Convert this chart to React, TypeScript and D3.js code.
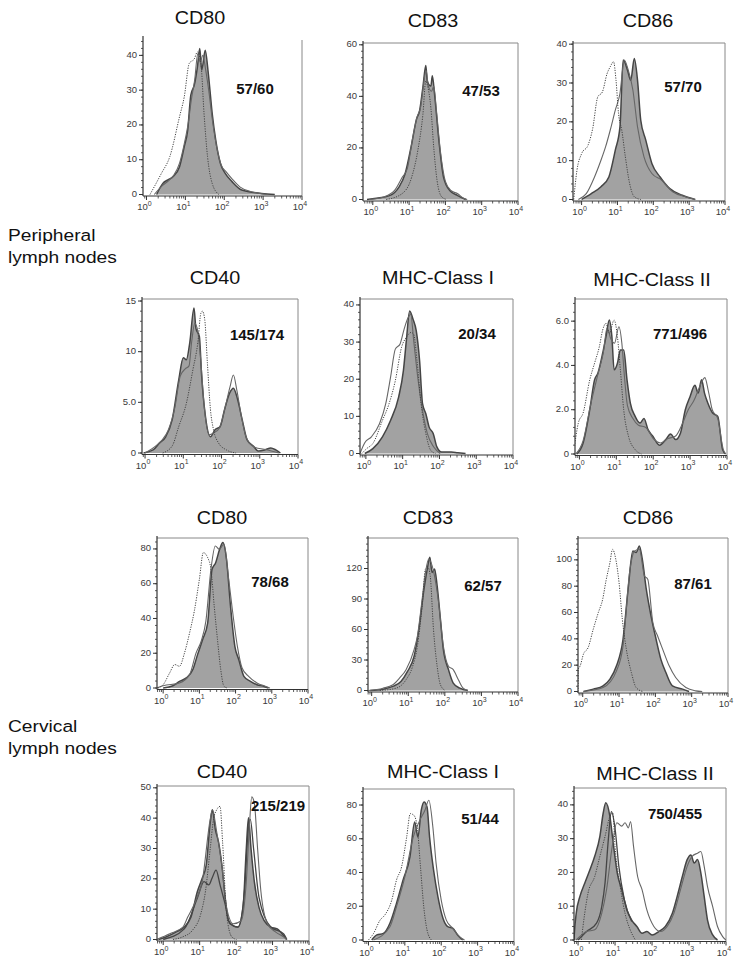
import React from "react";
import * as d3 from "d3";

type Pt = [number, number]; // [log10 fluorescence, cell count]

// ---------- text ----------
const panelTitles = ["CD80", "CD83", "CD86", "CD40", "MHC-Class I", "MHC-Class II", "CD80", "CD83", "CD86", "CD40", "MHC-Class I", "MHC-Class II"];
const mfiLabels = ["57/60", "47/53", "57/70", "145/174", "20/34", "771/496", "78/68", "62/57", "87/61", "215/219", "51/44", "750/455"];
const groupLabels = [["Peripheral", "lymph nodes"], ["Cervical", "lymph nodes"]];
const decades = [1, 10, 100, 1000, 10000];

// ---------- y axes ----------
const yMax = [45, 60.7, 40.3, 15.2, 41.6, 7.0, 86.3, 150, 116.6, 50.6, 89.5, 45];
const yTicks = [
  [0, 10, 20, 30, 40], [0, 20, 40, 60], [0, 10, 20, 30, 40],
  [0, 5, 10, 15], [0, 10, 20, 30, 40], [0, 2, 4, 6],
  [0, 20, 40, 60, 80], [0, 30, 60, 90, 120], [0, 20, 40, 60, 80, 100],
  [0, 10, 20, 30, 40, 50], [0, 20, 40, 60, 80], [0, 10, 20, 30, 40],
];
const yTickLabels = [
  ["0", "10", "20", "30", "40"], ["0", "20", "40", "60"], ["0", "10", "20", "30", "40"],
  ["0", "5.0", "10", "15"], ["0", "10", "20", "30", "40"], ["0", "2.0", "4.0", "6.0"],
  ["0", "20", "40", "60", "80"], ["0", "30", "60", "90", "120"], ["0", "20", "40", "60", "80", "100"],
  ["0", "10", "20", "30", "40", "50"], ["0", "20", "40", "60", "80"], ["0", "10", "20", "30", "40"],
];
const yMinorStep = [2, 2.5, 2, 1, 2, 0.4, 4, 6, 4, 2, 4, 2];
const xMinExp = [-0.09, -0.27, -0.24, -0.08, -0.16, -0.12, -0.17, -0.1, -0.13, -0.17, -0.15, -0.11];

// ---------- histogram data: peripheral lymph nodes ----------
const plnCD80Iso: Pt[] = [[0.09,0],[0.38,6],[0.6,10.9],[0.85,22.4],[0.97,28],[1.1,37.7],[1.23,39],[1.31,41],[1.4,37.7],[1.48,23.3],[1.57,10.9],[1.69,3.2],[1.86,0]];
const plnCD80Fill: Pt[] = [[0.26,0],[0.42,3.2],[0.55,4.2],[0.68,5.1],[0.85,8],[0.97,13.7],[1.06,18.5],[1.14,28.6],[1.23,31.5],[1.31,36.7],[1.37,42],[1.42,35.8],[1.51,41.5],[1.59,34.8],[1.69,23.3],[1.78,15.7],[1.9,9],[2.03,6],[2.2,3.7],[2.45,1.3],[2.96,0.3],[3.3,0]];
const plnCD80Open: Pt[] = [[0.2,0],[0.4,2.5],[0.55,3.8],[0.7,5.5],[0.85,9],[0.97,14.5],[1.08,21],[1.15,27],[1.24,33],[1.32,40.5],[1.38,38],[1.45,40],[1.52,36],[1.6,30],[1.7,21],[1.8,14],[1.92,8.5],[2.05,6.5],[2.2,4.5],[2.4,2.2],[2.7,0.8],[3.1,0]];

const plnCD83Iso: Pt[] = [[0.37,0],[0.8,2.2],[1.07,8.6],[1.24,19],[1.38,33],[1.46,46],[1.5,44.5],[1.6,35.5],[1.68,20],[1.77,7.4],[1.9,1],[2.04,0]];
const plnCD83Fill: Pt[] = [[-0.16,0],[0.1,0.5],[0.46,1.5],[0.72,4.8],[0.89,10],[1.07,21.5],[1.2,31],[1.29,34.5],[1.38,43.5],[1.46,52],[1.5,46],[1.6,44],[1.64,48],[1.7,41],[1.82,23],[1.95,8.6],[2.12,3.5],[2.34,1.5],[2.56,0]];
const plnCD83Open: Pt[] = [[-0.1,0],[0.3,1],[0.6,3.5],[0.81,8.6],[0.95,12],[1.1,24],[1.22,32],[1.32,36],[1.4,45],[1.47,50],[1.53,44],[1.62,42],[1.68,44],[1.75,35],[1.86,19],[2.0,7],[2.15,3.5],[2.34,2.2],[2.5,0.5],[2.6,0]];

const plnCD86Iso: Pt[] = [[-0.22,0],[-0.13,7.5],[0,11.8],[0.18,14],[0.31,18.3],[0.45,26.4],[0.58,27.7],[0.71,32.4],[0.8,34.2],[0.89,35.5],[0.96,30.7],[1.03,22.1],[1.12,17.9],[1.22,11],[1.34,4.1],[1.47,0.7],[1.65,0]];
const plnCD86Fill: Pt[] = [[0,0],[0.27,1.5],[0.54,3.3],[0.76,5.8],[0.94,12.7],[1.07,18.7],[1.16,35.9],[1.28,33.3],[1.37,30.7],[1.47,36.3],[1.56,30.7],[1.65,20.4],[1.79,15.3],[1.96,9.3],[2.19,5.8],[2.46,2.8],[2.81,1.1],[3.17,0]];
const plnCD86Open: Pt[] = [[-0.09,0],[0.13,1.5],[0.36,5.8],[0.54,10.1],[0.67,13.6],[0.8,17.9],[0.94,23],[1.07,27.3],[1.19,35.9],[1.29,33.7],[1.43,28.2],[1.56,18.7],[1.74,11],[1.96,6.7],[2.23,5],[2.54,2],[2.9,0.7],[3.17,0]];

const plnCD40Iso: Pt[] = [[0.46,0],[0.71,0.7],[0.88,2.6],[1.08,4.9],[1.25,8.2],[1.38,10.9],[1.46,13.8],[1.5,14],[1.56,13.2],[1.63,8.9],[1.71,4.3],[1.79,2.3],[1.92,1],[2.13,0.3],[2.38,0]];
const plnCD40Fill: Pt[] = [[-0.04,0],[0.21,0.3],[0.38,1],[0.54,1.6],[0.71,3.3],[0.88,7.2],[1.0,9.4],[1.08,9.2],[1.17,10.9],[1.28,14.3],[1.33,12.3],[1.42,11.5],[1.48,7.6],[1.58,3.6],[1.71,1.6],[1.83,2.3],[1.96,2.6],[2.08,4.3],[2.21,5.9],[2.31,6.4],[2.42,5.3],[2.54,3.3],[2.67,1.3],[2.83,0.7],[2.96,0.2],[3.13,0.3],[3.29,0.5],[3.42,0.3],[3.54,0]];
const plnCD40Open: Pt[] = [[0,0],[0.25,0.6],[0.45,1.3],[0.6,2.2],[0.78,4.5],[0.92,7.6],[1.05,8.3],[1.15,8.6],[1.22,11],[1.3,12.8],[1.38,12],[1.45,9.5],[1.55,4.5],[1.68,1.8],[1.8,2],[1.95,2.5],[2.1,4.6],[2.22,6.5],[2.31,7.7],[2.4,6.2],[2.52,3.6],[2.65,1.5],[2.85,0.6],[3.2,0.3],[3.5,0]];

const plnMHC1Iso: Pt[] = [[-0.11,0],[0.02,1.3],[0.19,2.7],[0.45,8.9],[0.63,13.4],[0.8,19.6],[0.97,28.6],[1.1,31.3],[1.23,32.6],[1.3,32.1],[1.39,25],[1.5,13.4],[1.63,5.4],[1.76,0.9],[1.89,0]];
const plnMHC1Fill: Pt[] = [[-0.03,0],[0.19,1.3],[0.45,4.5],[0.67,8.9],[0.89,15.2],[1.02,22.3],[1.1,30.4],[1.19,38.4],[1.28,36.2],[1.37,33],[1.46,25],[1.54,13.4],[1.63,10.7],[1.72,7.1],[1.83,5.4],[1.93,1.8],[2.06,0.4],[2.32,0.4],[2.5,0.2],[2.71,0]];
const plnMHC1Open: Pt[] = [[-0.16,0],[-0.03,2.9],[0.15,4.5],[0.37,8],[0.54,13.4],[0.67,20.5],[0.8,28.1],[0.93,29.5],[1.04,33.5],[1.15,36.6],[1.22,37.5],[1.3,30.4],[1.41,20.5],[1.54,11.6],[1.67,5.4],[1.84,1.8],[2.02,0]];

const plnMHC2Iso: Pt[] = [[-0.16,0],[-0.03,1.4],[0.1,1.85],[0.28,3.35],[0.41,4.1],[0.54,4.85],[0.63,5.6],[0.72,5.9],[0.81,5.45],[0.94,6.05],[1.03,5.3],[1.11,3.8],[1.2,2],[1.33,0.8],[1.51,0.2],[1.68,0]];
const plnMHC2Fill: Pt[] = [[-0.07,0],[0.1,0.5],[0.28,2],[0.41,3.35],[0.5,3.65],[0.63,4.55],[0.72,5.3],[0.81,6.05],[0.88,5.3],[0.94,3.8],[1.03,4.1],[1.11,4.7],[1.2,4.7],[1.29,3.35],[1.38,2.3],[1.51,1.7],[1.64,1.4],[1.75,1.6],[1.86,1.1],[1.99,0.8],[2.17,0.4],[2.34,0.65],[2.47,0.9],[2.61,0.65],[2.74,0.95],[2.87,2],[3.0,2.6],[3.13,3.1],[3.22,2.75],[3.31,3.35],[3.39,2.75],[3.48,2.3],[3.61,1.85],[3.75,1.7],[3.88,0.2],[3.96,0]];
const plnMHC2Open: Pt[] = [[-0.1,0],[0.1,0.6],[0.3,2.2],[0.5,3.6],[0.65,4.6],[0.75,5.7],[0.85,5.2],[0.95,5.0],[1.07,5.75],[1.15,5.0],[1.22,3.5],[1.3,2.2],[1.45,1.6],[1.6,1.3],[1.8,1.2],[2.0,0.7],[2.2,0.5],[2.4,0.7],[2.6,0.8],[2.8,1.4],[2.95,2.0],[3.1,2.4],[3.25,3.0],[3.4,3.45],[3.5,2.8],[3.6,2.0],[3.75,1.6],[3.9,0.2],[3.97,0]];

// ---------- histogram data: cervical lymph nodes ----------
const clnCD80Iso: Pt[] = [[-0.14,0],[0,1.9],[0.18,8.7],[0.32,13.5],[0.45,12.5],[0.59,20.2],[0.73,31.7],[0.86,44.2],[1.0,62.5],[1.11,77.9],[1.23,75],[1.32,68.3],[1.41,47.1],[1.5,27.9],[1.59,10.6],[1.68,1],[1.77,0]];
const clnCD80Fill: Pt[] = [[0,0],[0.27,1.3],[0.45,3.8],[0.64,5.8],[0.82,10.6],[0.95,19.2],[1.09,27.9],[1.23,37.5],[1.35,68.3],[1.45,72.1],[1.56,79.8],[1.65,83.7],[1.75,74],[1.86,47.1],[1.98,24],[2.09,16.3],[2.23,6.7],[2.41,3.8],[2.59,1.9],[2.77,1],[2.91,0]];
const clnCD80Open: Pt[] = [[-0.18,0],[0,1.3],[0.45,2.9],[0.73,7.7],[0.91,20.2],[1.05,26.9],[1.18,38.5],[1.32,68.3],[1.44,81.7],[1.55,79.8],[1.68,82.7],[1.8,64.4],[1.91,45.2],[2.05,24],[2.18,11.5],[2.36,6.7],[2.59,2.9],[2.82,1],[2.95,0]];

const clnCD83Iso: Pt[] = [[0.22,0],[0.67,2.3],[0.94,10.6],[1.12,23.8],[1.25,43.6],[1.38,83.2],[1.47,119.5],[1.54,121],[1.6,113],[1.69,60],[1.79,23.8],[1.88,5.6],[2.01,0]];
const clnCD83Fill: Pt[] = [[-0.04,0],[0.31,1.3],[0.58,4],[0.8,8.9],[0.98,18.8],[1.16,33.7],[1.29,60],[1.43,99.7],[1.52,119.5],[1.59,131],[1.65,116],[1.72,119.5],[1.79,103],[1.88,70],[1.96,40.3],[2.1,20.5],[2.23,7.3],[2.41,2.3],[2.63,0]];
const clnCD83Open: Pt[] = [[-0.09,0],[0.31,2.3],[0.58,5.6],[0.76,12.2],[0.94,20.5],[1.16,40.3],[1.25,53.5],[1.38,89.8],[1.47,116],[1.56,129.4],[1.7,116],[1.83,86.5],[1.96,43.6],[2.1,23.8],[2.23,20.5],[2.37,10.6],[2.5,2.3],[2.63,0]];

const clnCD86Iso: Pt[] = [[-0.13,0],[-0.12,17],[-0.07,19.5],[0.02,28.4],[0.15,33.4],[0.29,47.3],[0.43,60],[0.55,70.1],[0.64,84],[0.75,98],[0.82,108],[0.91,100.5],[1.0,82.8],[1.09,55],[1.2,32.2],[1.34,14.4],[1.47,3],[1.65,0]];
const clnCD86Fill: Pt[] = [[0.02,0],[0.29,1.8],[0.56,4.3],[0.75,9.4],[0.93,19.5],[1.11,39.7],[1.25,77.7],[1.38,106.8],[1.47,105.6],[1.56,110.6],[1.64,100.5],[1.75,77.7],[1.88,57.5],[2.02,39.7],[2.15,24.6],[2.29,14.4],[2.47,4.3],[2.75,1.8],[2.93,0]];
const clnCD86Open: Pt[] = [[0.02,0],[0.56,3],[0.93,15.7],[1.11,34.7],[1.29,90.4],[1.43,106.8],[1.56,108],[1.7,87.8],[1.79,85.3],[1.93,52.4],[2.06,42.3],[2.2,32.2],[2.38,19.5],[2.56,10.6],[2.84,3],[3.11,0.5],[3.29,0]];

const clnCD40Iso: Pt[] = [[0.27,0],[0.54,0.9],[0.8,3],[1.03,8.4],[1.16,15.9],[1.29,29.9],[1.38,39.6],[1.47,42.8],[1.56,43.9],[1.63,32],[1.74,8.4],[1.88,0.9],[2.01,0]];
const clnCD40Fill: Pt[] = [[-0.13,0],[0.09,0.9],[0.36,2.5],[0.58,4.1],[0.76,7.3],[0.94,15.9],[1.07,20.2],[1.18,24.5],[1.29,38.5],[1.35,42.8],[1.43,36.3],[1.52,32],[1.61,24.5],[1.7,13.8],[1.79,6.2],[1.92,4.6],[2.05,4.1],[2.19,10.5],[2.28,29.9],[2.34,40.1],[2.41,29.9],[2.5,19.1],[2.63,10.5],[2.77,6.2],[2.95,4.1],[3.13,3.5],[3.26,1.9],[3.39,0]];
const clnCD40Dark: Pt[] = [[0,0],[0.58,3.5],[0.94,13.8],[1.12,19.1],[1.25,18],[1.34,20.2],[1.45,22.9],[1.56,18],[1.7,11.6],[1.83,5.2],[2.05,4.1],[2.23,15.9],[2.32,34.2],[2.39,39.6],[2.48,29.9],[2.63,13.8],[2.95,4.1],[3.3,1.9],[3.39,0]];
const clnCD40Open: Pt[] = [[-0.18,0],[0.18,1.9],[0.54,4.1],[0.67,7.3],[0.89,12.7],[1.07,19.1],[1.29,39.6],[1.35,42.8],[1.47,35.3],[1.61,24.5],[1.74,10.5],[1.92,5.2],[2.14,6.2],[2.28,19.1],[2.37,38.5],[2.43,47],[2.5,45],[2.59,29.9],[2.68,15.9],[2.86,5.2],[3.08,2.5],[3.3,0.9],[3.39,0]];

const clnMHC1Iso: Pt[] = [[0,0],[0.14,3.9],[0.32,11.8],[0.45,14.8],[0.64,23.6],[0.77,35.5],[0.91,43.3],[1.05,61],[1.15,74.9],[1.25,73.9],[1.34,67],[1.43,43.3],[1.52,19.7],[1.61,5.9],[1.73,0]];
const clnMHC1Fill: Pt[] = [[0.09,0],[0.23,3],[0.41,3.9],[0.59,9.9],[0.77,21.7],[0.95,35.5],[1.14,49.3],[1.27,70],[1.36,61],[1.45,76.8],[1.53,81.8],[1.61,78.8],[1.68,61],[1.79,41.4],[1.91,25.6],[2.05,12.8],[2.18,7.9],[2.32,6.9],[2.45,3],[2.59,0]];
const clnMHC1Open: Pt[] = [[0.14,0],[0.59,7.9],[0.77,19.7],[1.0,37.4],[1.23,61],[1.41,70.9],[1.55,76.8],[1.66,82.8],[1.77,67],[1.86,45.3],[2.0,23.6],[2.14,11.8],[2.32,6.9],[2.5,2],[2.64,0]];

const clnMHC2Iso: Pt[] = [[0.09,0],[0.18,7.9],[0.27,13.9],[0.45,18.8],[0.59,24.8],[0.73,30.7],[0.86,36.6],[0.94,37.6],[1.0,27.7],[1.14,15.8],[1.27,7.9],[1.41,3],[1.55,0]];
const clnMHC2Fill: Pt[] = [[-0.11,0],[-0.1,2],[-0.05,7.9],[0.05,12.9],[0.18,16.8],[0.32,20.8],[0.45,24.8],[0.59,30.7],[0.68,37.6],[0.75,40.6],[0.86,36.6],[0.95,28.7],[1.06,19.8],[1.18,14.9],[1.32,8.9],[1.45,5.9],[1.59,4],[1.73,2],[1.86,2.5],[2.0,1.5],[2.18,2.5],[2.36,4],[2.55,7.9],[2.68,12.9],[2.82,18.8],[2.95,23.8],[3.05,25.2],[3.14,22.8],[3.23,23.8],[3.32,19.8],[3.41,12.9],[3.5,5.9],[3.64,1.5],[3.77,0]];
const clnMHC2Dark: Pt[] = [[0.0,0],[0.23,2.5],[0.5,5],[0.64,9.9],[0.73,17],[0.82,30],[0.9,38],[1.0,33],[1.1,22],[1.25,12],[1.45,5.5]];
const clnMHC2Open: Pt[] = [[-0.05,0],[0.23,2.5],[0.45,3],[0.64,7.9],[0.77,14.9],[0.91,26.7],[1.05,34.7],[1.18,33.7],[1.27,34.7],[1.36,33.2],[1.42,35.1],[1.5,27.7],[1.61,18.8],[1.73,14.9],[1.86,8.9],[2.05,4],[2.23,2.5],[2.41,4],[2.59,7.9],[2.77,14.9],[2.95,21.8],[3.09,24.8],[3.23,25.7],[3.32,26.2],[3.41,21.8],[3.5,15.8],[3.64,9.9],[3.77,4],[3.91,1],[4.0,0]];

const isoSeries = [plnCD80Iso, plnCD83Iso, plnCD86Iso, plnCD40Iso, plnMHC1Iso, plnMHC2Iso, clnCD80Iso, clnCD83Iso, clnCD86Iso, clnCD40Iso, clnMHC1Iso, clnMHC2Iso];
const fillSeries = [plnCD80Fill, plnCD83Fill, plnCD86Fill, plnCD40Fill, plnMHC1Fill, plnMHC2Fill, clnCD80Fill, clnCD83Fill, clnCD86Fill, clnCD40Fill, clnMHC1Fill, clnMHC2Fill];
const openSeries = [plnCD80Open, plnCD83Open, plnCD86Open, plnCD40Open, plnMHC1Open, plnMHC2Open, clnCD80Open, clnCD83Open, clnCD86Open, clnCD40Open, clnMHC1Open, clnMHC2Open];
const darkSeries: (Pt[] | null)[] = [null, null, null, null, null, null, null, null, null, clnCD40Dark, null, clnMHC2Dark];

// ---------- layout (pixels) ----------
interface Box { x0: number; x1: number; yTop: number; yBase: number; tx: number; ty: number; ax: number; ay: number; top: boolean }
const boxes: Box[] = [
  { x0: 143, x1: 302, yTop: 38, yBase: 194.5, tx: 200, ty: 19, ax: 255, ay: 90, top: false },
  { x0: 363, x1: 518, yTop: 43, yBase: 199.5, tx: 433, ty: 22, ax: 481, ay: 92, top: true },
  { x0: 573, x1: 725, yTop: 43, yBase: 199.5, tx: 648, ty: 22, ax: 683, ay: 88, top: true },
  { x0: 142, x1: 298, yTop: 299, yBase: 453, tx: 215, ty: 279, ax: 257, ay: 336, top: true },
  { x0: 360, x1: 513, yTop: 299, yBase: 453.5, tx: 438, ty: 279, ax: 477, ay: 335, top: true },
  { x0: 575, x1: 727, yTop: 299, yBase: 454, tx: 652, ty: 281, ax: 680, ay: 335, top: true },
  { x0: 157, x1: 308, yTop: 538, yBase: 688, tx: 222, ty: 519, ax: 270, ay: 583, top: true },
  { x0: 368, x1: 518, yTop: 538, yBase: 690.5, tx: 428, ty: 519, ax: 483, ay: 587, top: true },
  { x0: 578, x1: 728, yTop: 538, yBase: 691.5, tx: 648, ty: 519, ax: 693, ay: 585, top: true },
  { x0: 157, x1: 309, yTop: 786, yBase: 939.5, tx: 222, ty: 773, ax: 278, ay: 807, top: true },
  { x0: 363, x1: 514, yTop: 789, yBase: 940, tx: 443, ty: 773, ax: 480, ay: 820, top: true },
  { x0: 574, x1: 726, yTop: 788, yBase: 940, tx: 655, ty: 775, ax: 675, ay: 815, top: true },
];
const groupLabelPos = [{ x: 8, y: 241 }, { x: 8, y: 732 }];

const FONT = "'Liberation Sans', Arial, Helvetica, sans-serif";
const FILL = "#a2a2a2";
const DARK = "#454545";
const OPEN = "#666";
const AXIS = "#333";
const TICKTXT = "#3a3a3a";
const STRETCH = 1.13;

function Panel({ i }: { i: number }) {
  const b = boxes[i];
  const x = d3.scaleLog().domain([Math.pow(10, xMinExp[i]), 1e4]).range([b.x0, b.x1]);
  const y = d3.scaleLinear().domain([0, yMax[i]]).range([b.yBase, b.yTop]);
  const px = (d: Pt) => x(Math.pow(10, d[0]));
  const area = d3.area<Pt>().x(px).y0(y(0)).y1((d) => y(d[1])).curve(d3.curveMonotoneX);
  const line = d3.line<Pt>().x(px).y((d) => y(d[1])).curve(d3.curveMonotoneX);
  const axY = b.yBase + 1.5;
  const [dMin, dMax] = x.domain();
  const minorX: number[] = [];
  for (let k = -1; k < 4; k++) for (let m = 2; m <= 9; m++) {
    const v = m * Math.pow(10, k);
    if (v >= dMin && v <= dMax) minorX.push(v);
  }
  const majorX = decades.filter((v) => v >= dMin * 0.98 && v <= dMax);
  const minorY = d3.range(0, yMax[i] + 1e-9, yMinorStep[i]);
  const clipId = `clip${i}`;
  const dark = darkSeries[i];
  return (
    <g>
      <defs>
        <clipPath id={clipId}>
          <rect x={b.x0} y={b.yTop} width={b.x1 - b.x0} height={axY - b.yTop} />
        </clipPath>
      </defs>
      <text transform={`translate(${b.tx},${b.ty}) scale(${STRETCH},1)`} textAnchor="middle" dominantBaseline="middle" fontSize={17.5} fill="#111">{panelTitles[i]}</text>
      {b.top && <line x1={b.x0} x2={b.x1} y1={b.yTop} y2={b.yTop} stroke="#888" strokeWidth={1} />}
      <line x1={b.x1} x2={b.x1} y1={b.top ? b.yTop : b.yTop + 2} y2={axY} stroke="#888" strokeWidth={1} />
      <g clipPath={`url(#${clipId})`}>
        <path d={area(fillSeries[i]) || ""} fill={FILL} stroke="none" />
        <path d={line(fillSeries[i]) || ""} fill="none" stroke={DARK} strokeWidth={1.5} strokeLinejoin="round" />
        {dark && <path d={line(dark) || ""} fill="none" stroke={DARK} strokeWidth={1.3} strokeLinejoin="round" />}
        <path d={line(openSeries[i]) || ""} fill="none" stroke={OPEN} strokeWidth={1.1} strokeLinejoin="round" />
        <path d={line(isoSeries[i]) || ""} fill="none" stroke="#444" strokeWidth={1} strokeDasharray="1.2 1.3" />
      </g>
      <line x1={b.x0} x2={b.x0} y1={b.yTop - 2} y2={axY} stroke={AXIS} strokeWidth={1.2} />
      {minorY.map((v, k) => (
        <line key={`my${k}`} x1={b.x0 - 2} x2={b.x0} y1={y(v)} y2={y(v)} stroke={AXIS} strokeWidth={0.8} />
      ))}
      {yTicks[i].map((v, k) => (
        <g key={`y${k}`}>
          <line x1={b.x0 - 4} x2={b.x0} y1={y(v)} y2={y(v)} stroke={AXIS} strokeWidth={1} />
          <text x={b.x0 - 6} y={y(v)} textAnchor="end" dominantBaseline="middle" fontSize={9.5} fill={TICKTXT}>{yTickLabels[i][k]}</text>
        </g>
      ))}
      <line x1={b.x0} x2={b.x1} y1={axY} y2={axY} stroke={AXIS} strokeWidth={1.2} />
      {minorX.map((v, k) => (
        <line key={`mx${k}`} x1={x(v)} x2={x(v)} y1={axY} y2={axY + 2.5} stroke={AXIS} strokeWidth={0.8} />
      ))}
      {majorX.map((v, k) => {
        const e = Math.round(Math.log10(v));
        const xx = Math.min(x(v), b.x1);
        return (
          <g key={`x${k}`}>
            <line x1={xx} x2={xx} y1={axY} y2={axY + 4} stroke={AXIS} strokeWidth={1} />
            <text x={xx - 2} y={axY + 14} textAnchor="middle" fontSize={9.5} fill={TICKTXT}>
              10<tspan dy={-4.5} fontSize={7}>{e}</tspan>
            </text>
          </g>
        );
      })}
      <text x={b.ax} y={b.ay} textAnchor="middle" dominantBaseline="middle" fontSize={15} fontWeight="bold" fill="#111">{mfiLabels[i]}</text>
    </g>
  );
}

export default function App() {
  return (
    <svg width={738} height={969} viewBox="0 0 738 969" style={{ position: "absolute", left: 0, top: 0, background: "#fff", fontFamily: FONT }}>
      <rect x={0} y={0} width={738} height={969} fill="#fff" />
      {groupLabels.map((g, k) => (
        <text key={k} transform={`translate(${groupLabelPos[k].x},${groupLabelPos[k].y}) scale(${STRETCH},1)`} fontSize={17} fill="#111">
          <tspan x={0} dy={0}>{g[0]}</tspan>
          <tspan x={0} dy={22}>{g[1]}</tspan>
        </text>
      ))}
      {boxes.map((_, i) => <Panel key={i} i={i} />)}
    </svg>
  );
}
